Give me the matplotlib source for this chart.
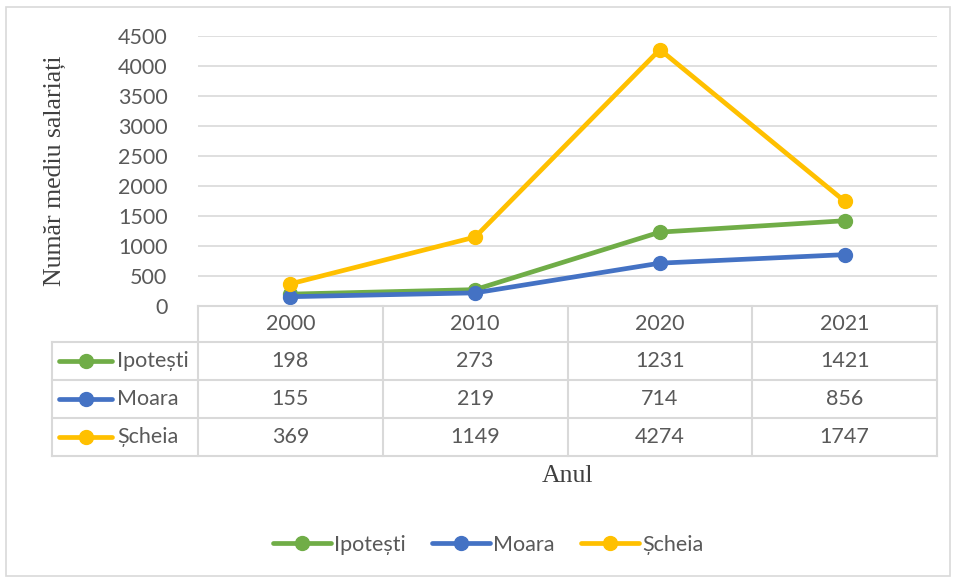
import matplotlib
matplotlib.use("Agg")
import matplotlib.pyplot as plt
from matplotlib.lines import Line2D
from matplotlib.patches import Rectangle

years = ["2000", "2010", "2020", "2021"]
series_names = ["Ipotești", "Moara", "Șcheia"]
ipotesti = [198, 273, 1231, 1421]
moara = [155, 219, 714, 856]
scheia = [369, 1149, 4274, 1747]
colors = ["#70AD47", "#4472C4", "#FFC000"]
yticks = [0, 500, 1000, 1500, 2000, 2500, 3000, 3500, 4000, 4500]

values = [ipotesti, moara, scheia]

W, H = 956, 582
fig = plt.figure(figsize=(W / 100, H / 100), dpi=100)
plt.rcParams['font.family'] = ['Lato', 'DejaVu Sans']
FS = 15.5

# outer border
fig.patches.append(Rectangle((6 / W, 1 - 576 / H), (950 - 6) / W, (576 - 7) / H,
                             transform=fig.transFigure, fill=False,
                             edgecolor="#D9D9D9", linewidth=1.2))

x0, x1, ytop, ybot = 198, 937, 36, 306
ax = fig.add_axes([x0 / W, 1 - ybot / H, (x1 - x0) / W, (ybot - ytop) / H])
xs = list(range(len(years)))
ax.set_xlim(-0.5, len(years) - 0.5)
ax.set_ylim(0, 4500)
ax.set_yticks(yticks)
ax.set_yticklabels([str(t) for t in yticks], fontsize=FS, color="#595959")
ax.tick_params(axis="y", length=0, pad=22)
ax.set_xticks([])
for s in ax.spines.values():
    s.set_visible(False)
ax.grid(axis="y", color="#D9D9D9", linewidth=1.2)
ax.set_axisbelow(True)

handles = []
for name, vals, c in zip(series_names, values, colors):
    h, = ax.plot(xs, vals, color=c, linewidth=3.4, marker="o", markersize=10,
                 label=name, clip_on=False, zorder=3, solid_capstyle="round")
    handles.append(h)

# table
row_edges = [306, 342, 380, 418, 456]
tx_left = 52
border_c = "#D9D9D9"
def fy(py):
    return 1 - py / H
def fx(px):
    return px / W
col_edges = [-0.5 + i for i in range(len(years) + 1)]
for i, r in enumerate(row_edges):
    left = x0 if i == 0 else tx_left
    fig.add_artist(Line2D([fx(left), fx(x1)], [fy(r), fy(r)], color=border_c, linewidth=1.5))
fig.add_artist(Line2D([fx(tx_left), fx(tx_left)], [fy(row_edges[1]), fy(row_edges[-1])], color=border_c, linewidth=1.5))
for ce in col_edges:
    px = x0 + (ce + 0.5) * (x1 - x0) / len(years)
    fig.add_artist(Line2D([fx(px), fx(px)], [fy(row_edges[0]), fy(row_edges[-1])], color=border_c, linewidth=1.5))

cw = (x1 - x0) / len(years)
for j, yr in enumerate(years):
    cx = x0 + (j + 0.5) * cw
    fig.text(fx(cx), fy((row_edges[0] + row_edges[1]) / 2), yr, ha="center", va="center",
             fontsize=FS, color="#595959")
for i, (name, vals, c) in enumerate(zip(series_names, values, colors)):
    cy = fy((row_edges[i + 1] + row_edges[i + 2]) / 2)
    fig.add_artist(Line2D([fx(59), fx(112)], [cy, cy], color=c, linewidth=3.4,
                          solid_capstyle="round"))
    fig.add_artist(Line2D([fx(85.5)], [cy], color=c, marker="o", markersize=10, linestyle="none"))
    fig.text(fx(117), cy, name, ha="left", va="center", fontsize=FS, color="#595959")
    for j, v in enumerate(vals):
        cx = x0 + (j + 0.5) * cw
        fig.text(fx(cx), cy, str(v), ha="center", va="center", fontsize=FS, color="#595959")

# axis titles
fig.text(fx(55), fy(171), "Număr mediu salariați", rotation=90, ha="center", va="center",
         fontsize=18.5, color="#404040", family=["Liberation Serif", "DejaVu Serif"])
fig.text(fx(568), fy(476), "Anul", ha="center", va="center",
         fontsize=18.5, color="#404040", family=["Liberation Serif", "DejaVu Serif"])

fig.legend(handles=handles, labels=series_names, loc="center", bbox_to_anchor=(fx(488), fy(545)),
           ncol=3, frameon=False, fontsize=FS, handlelength=2.7, handletextpad=0.15,
           columnspacing=1.2, labelcolor="#595959")

fig.savefig("out.png", dpi=100)
